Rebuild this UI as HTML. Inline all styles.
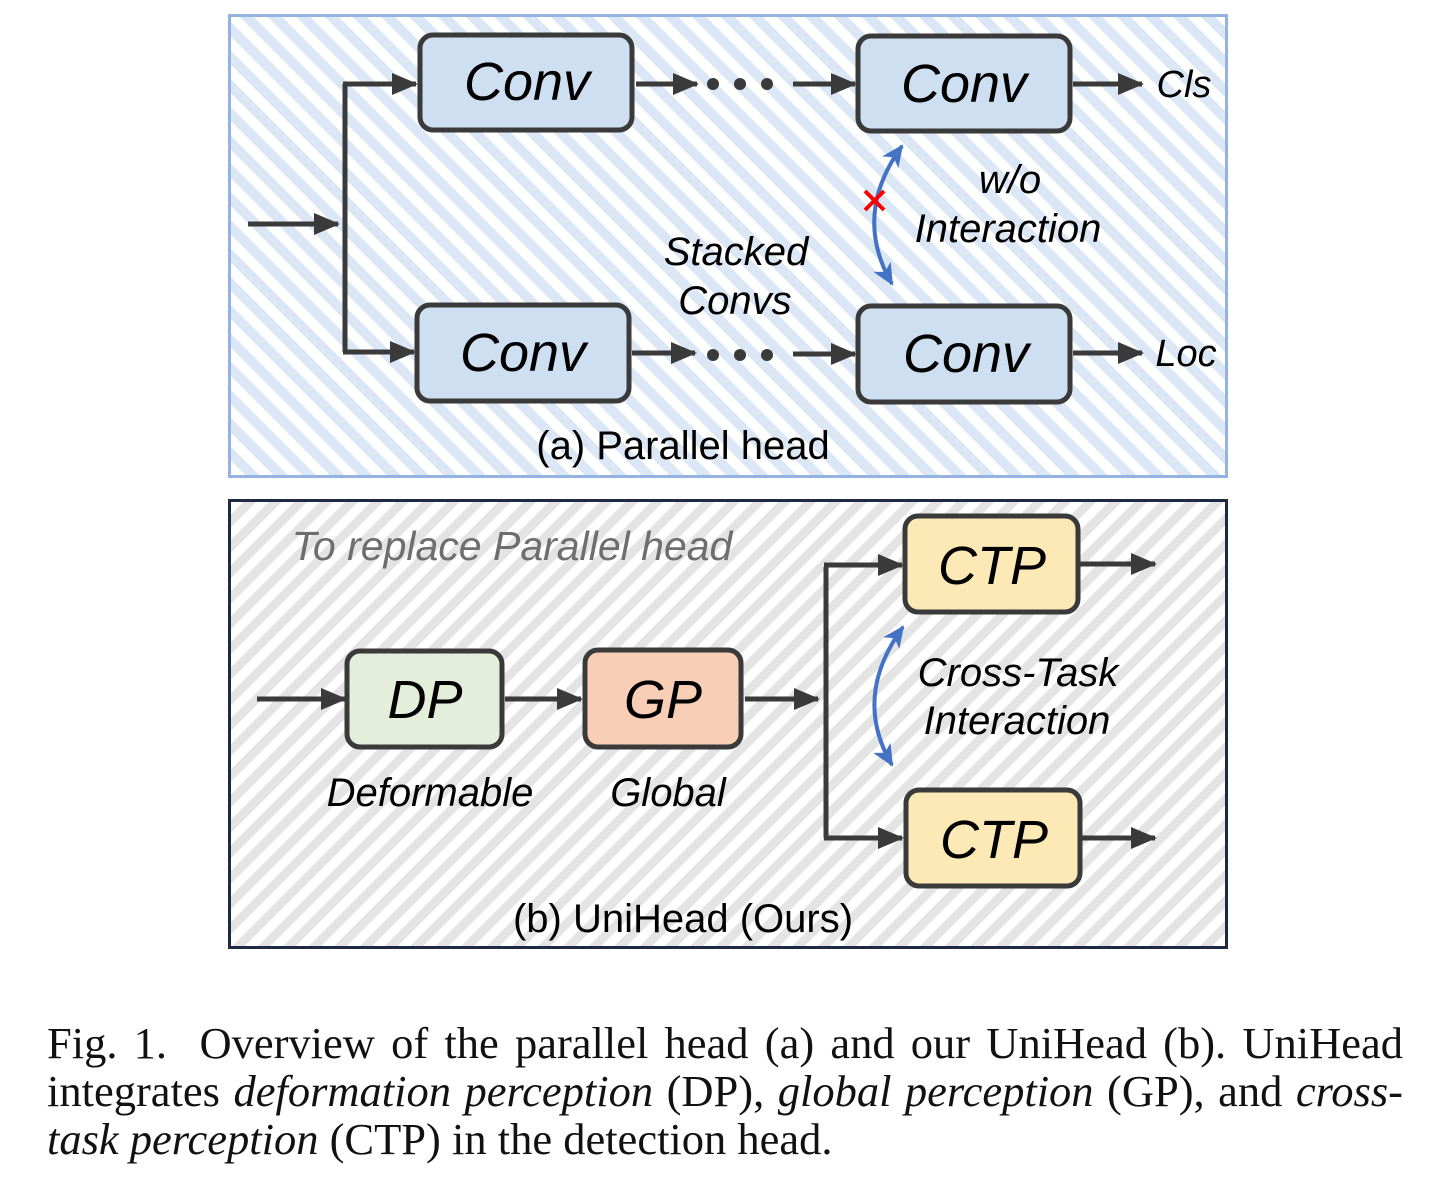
<!DOCTYPE html>
<html><head><meta charset="utf-8"><style>
body{margin:0;width:1448px;height:1178px;background:#fff;position:relative;overflow:hidden}
#pa{position:absolute;left:228px;top:14px;width:994px;height:458px;border:3px solid #94b3e0;background:repeating-linear-gradient(45deg,#fff 0 10px,#dbe7f5 10px 20px)}
#pb{position:absolute;left:228px;top:499px;width:994px;height:444px;border:3px solid #1e2a44;background:repeating-linear-gradient(-45deg,#fff 0 9px,#e4e4e4 9px 18px)}
svg{position:absolute;left:0;top:0}
.cap{position:absolute;left:47px;width:1356px;font-family:"Liberation Serif",serif;font-size:44.5px;line-height:48px;color:#111;white-space:nowrap}
.j{text-align:justify;text-align-last:justify}
</style></head><body>
<div id="pa"></div><div id="pb"></div>
<svg width="1448" height="1178" font-family="Liberation Sans, sans-serif">
<defs><marker id="a2" markerWidth="26" markerHeight="26" refX="24" refY="13" orient="auto" markerUnits="userSpaceOnUse"><path d="M0,2 L26,13 L0,24z" fill="#3a3a3a"/></marker>
<marker id="ab" markerWidth="24" markerHeight="24" refX="20" refY="12" orient="auto-start-reverse" markerUnits="userSpaceOnUse"><path d="M0,2 L22,12 L0,22 L6,12z" fill="#4472c4"/></marker></defs>
<g stroke="#3a3a3a" stroke-width="5" fill="none">
<path d="M248,224 H338" marker-end="url(#a2)"/>
<path d="M345,84 V352"/>
<path d="M343,84 H416" marker-end="url(#a2)"/>
<path d="M343,352 H414" marker-end="url(#a2)"/>
<path d="M636,84 H697" marker-end="url(#a2)"/>
<path d="M793,84 H855" marker-end="url(#a2)"/>
<path d="M632,353 H695" marker-end="url(#a2)"/>
<path d="M793,354 H855" marker-end="url(#a2)"/>
<path d="M1073,84 H1142" marker-end="url(#a2)"/>
<path d="M1073,353 H1142" marker-end="url(#a2)"/>
<path d="M257,699 H345" marker-end="url(#a2)"/>
<path d="M505,699 H581" marker-end="url(#a2)"/>
<path d="M745,699 H818" marker-end="url(#a2)"/>
<path d="M826,567 V838"/>
<path d="M824,565 H902" marker-end="url(#a2)"/>
<path d="M824,838 H902" marker-end="url(#a2)"/>
<path d="M1080,564 H1155" marker-end="url(#a2)"/>
<path d="M1082,838 H1155" marker-end="url(#a2)"/>
</g>
<g fill="#3a3a3a"><circle cx="713" cy="84" r="6"/><circle cx="740" cy="84" r="6"/><circle cx="767" cy="84" r="6"/>
<circle cx="713" cy="355" r="6"/><circle cx="740" cy="355" r="6"/><circle cx="767" cy="355" r="6"/></g>
<g stroke="#3a3a3a" stroke-width="5">
<rect x="420" y="35" width="212" height="95" rx="13" fill="#cddff0"/>
<rect x="858" y="36" width="212" height="95" rx="13" fill="#cddff0"/>
<rect x="417" y="305" width="212" height="96" rx="13" fill="#cddff0"/>
<rect x="858" y="306" width="212" height="96" rx="13" fill="#cddff0"/>
<rect x="347" y="651" width="155" height="96" rx="13" fill="#e3efda"/>
<rect x="585" y="650" width="156" height="97" rx="13" fill="#f8cfb6"/>
<rect x="905" y="516" width="173" height="96" rx="13" fill="#fde9b5"/>
<rect x="906" y="790" width="174" height="96" rx="13" fill="#fde9b5"/>
</g>
<g stroke="#4472c4" stroke-width="4" fill="none">
<path d="M892,284 Q852,215 902,146" marker-start="url(#ab)" marker-end="url(#ab)"/>
<path d="M892,765 Q852,697 903,627" marker-start="url(#ab)" marker-end="url(#ab)"/>
</g>
<g stroke="#f00" stroke-width="4"><path d="M865,191 L884,210 M884,191 L865,210"/></g>
<g font-style="italic" text-anchor="middle" fill="#000">
<text x="527" y="100" font-size="54">Conv</text>
<text x="964" y="102" font-size="54">Conv</text>
<text x="523" y="371" font-size="54">Conv</text>
<text x="966" y="372" font-size="54">Conv</text>
<text x="425" y="718" font-size="54">DP</text>
<text x="663" y="718" font-size="54">GP</text>
<text x="992" y="584" font-size="54">CTP</text>
<text x="994" y="858" font-size="54">CTP</text>
<text x="1184" y="97" font-size="38">Cls</text>
<text x="1186" y="366" font-size="38">Loc</text>
<text x="1010" y="193" font-size="40">w/o</text>
<text x="1008" y="242" font-size="40">Interaction</text>
<text x="736" y="265" font-size="40">Stacked</text>
<text x="735" y="314" font-size="40">Convs</text>
<text x="1018" y="686" font-size="40">Cross-Task</text>
<text x="1017" y="734" font-size="40">Interaction</text>
<text x="430" y="806" font-size="40">Deformable</text>
<text x="668" y="806" font-size="40">Global</text>
<text x="512" y="560" font-size="41" fill="#6e6e6e">To replace Parallel head</text>
</g>
<g text-anchor="middle" font-size="40" fill="#000">
<text x="683" y="459">(a) Parallel head</text>
<text x="683" y="932">(b) UniHead (Ours)</text>
</g>
</svg>
<div class="cap j" style="top:1019px">Fig. 1.&nbsp; Overview of the parallel head (a) and our UniHead (b). UniHead</div>
<div class="cap j" style="top:1067px">integrates <i>deformation perception</i> (DP), <i>global perception</i> (GP), and <i>cross-</i></div>
<div class="cap" style="top:1115px"><i>task perception</i> (CTP) in the detection head.</div>
</body></html>
